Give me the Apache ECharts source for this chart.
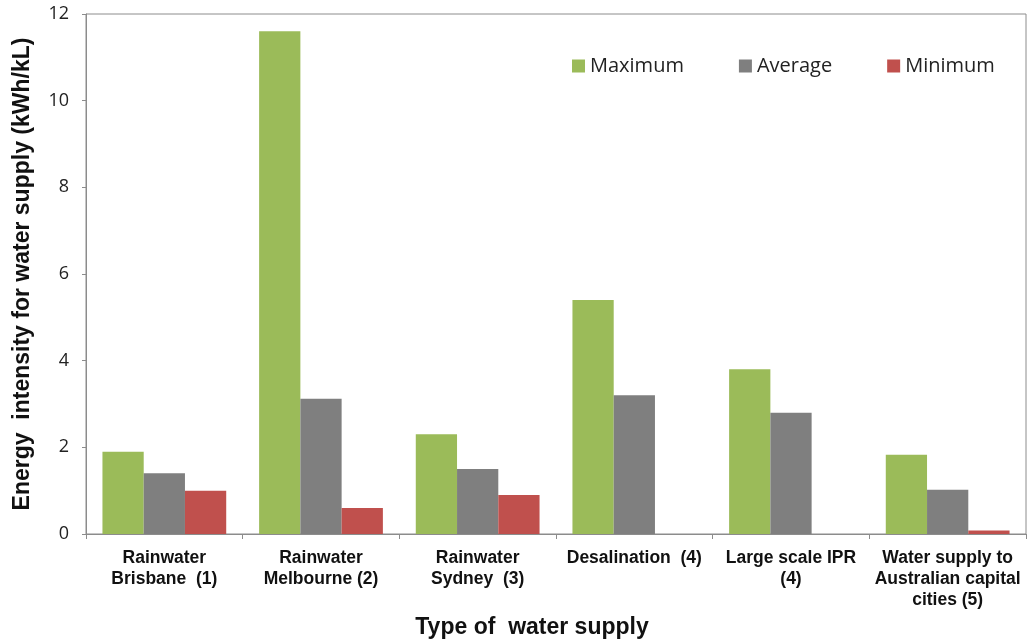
<!DOCTYPE html>
<html><head><meta charset="utf-8">
<script src="https://cdn.jsdelivr.net/npm/echarts@6/dist/echarts.min.js"></script>
<style>html,body{margin:0;padding:0;background:#fff;}#c{width:1029px;height:639px;}</style>
</head><body><div id="c"></div>
<script>
var categories = ['Rainwater\nBrisbane  (1)', 'Rainwater\nMelbourne (2)', 'Rainwater\nSydney  (3)', 'Desalination  (4)', 'Large scale IPR\n(4)', 'Water supply to\nAustralian capital\ncities (5)'];
var maximum = [1.9, 11.6, 2.3, 5.4, 3.8, 1.83];
var average = [1.4, 3.12, 1.5, 3.2, 2.8, 1.02];
var minimum = [1.0, 0.6, 0.9, 0, 0, 0.08];
var seriesNames = ['Maximum', 'Average', 'Minimum'];
var yTicks = [0, 2, 4, 6, 8, 10, 12];

var chart = echarts.init(document.getElementById('c'));
var axisColor = '#8c8c8c';
chart.setOption({
  animation: false,
  backgroundColor: '#fff',
  grid: {left: 86, right: 3, top: 14, bottom: 105, show: true, borderColor: axisColor, borderWidth: 1,
    containLabel: false, outerBoundsMode: 'none'},
  legend: {
    top: 51, left: 567, itemWidth: 13, itemHeight: 13, itemGap: 55,
    icon: 'rect',
    textStyle: {fontFamily: 'Open Sans', fontSize: 20, color: '#222'},
    data: seriesNames
  },
  xAxis: {
    type: 'category', data: categories,
    name: 'Type of  water supply', nameLocation: 'middle', nameGap: 81,
    nameTextStyle: {fontFamily: 'Liberation Sans', fontWeight: 'bold', fontSize: 23, color: '#111', padding: [0, 48, 0, 0]},
    axisLine: {lineStyle: {color: axisColor}},
    axisTick: {show: true, length: 5, lineStyle: {color: axisColor}},
    axisLabel: {interval: 0, margin: 14, fontFamily: 'Liberation Sans', fontWeight: 'bold', fontSize: 17.5, lineHeight: 21, color: '#111'}
  },
  yAxis: {
    type: 'value', min: 0, max: 12, interval: 2,
    name: 'Energy  intensity for water supply (kWh/kL)', nameLocation: 'middle', nameGap: 52,
    nameTextStyle: {fontFamily: 'Liberation Sans', fontWeight: 'bold', fontSize: 23, color: '#111'},
    axisLine: {show: true, lineStyle: {color: axisColor}},
    axisTick: {show: true, length: 4, lineStyle: {color: axisColor}},
    splitLine: {show: false},
    axisLabel: {margin: 17, fontFamily: 'Open Sans', fontSize: 18, color: '#222',
      formatter: function (v) { return yTicks.indexOf(v) >= 0 ? String(v) : ''; }}
  },
  series: [
    {name: seriesNames[0], type: 'bar', data: maximum, itemStyle: {color: '#9BBB59'}, barGap: '0%', barCategoryGap: '21%'},
    {name: seriesNames[1], type: 'bar', data: average, itemStyle: {color: '#7F7F7F'}, barGap: '0%', barCategoryGap: '21%'},
    {name: seriesNames[2], type: 'bar', data: minimum, itemStyle: {color: '#C0504D'}, barGap: '0%', barCategoryGap: '21%'}
  ]
});
</script></body></html>
